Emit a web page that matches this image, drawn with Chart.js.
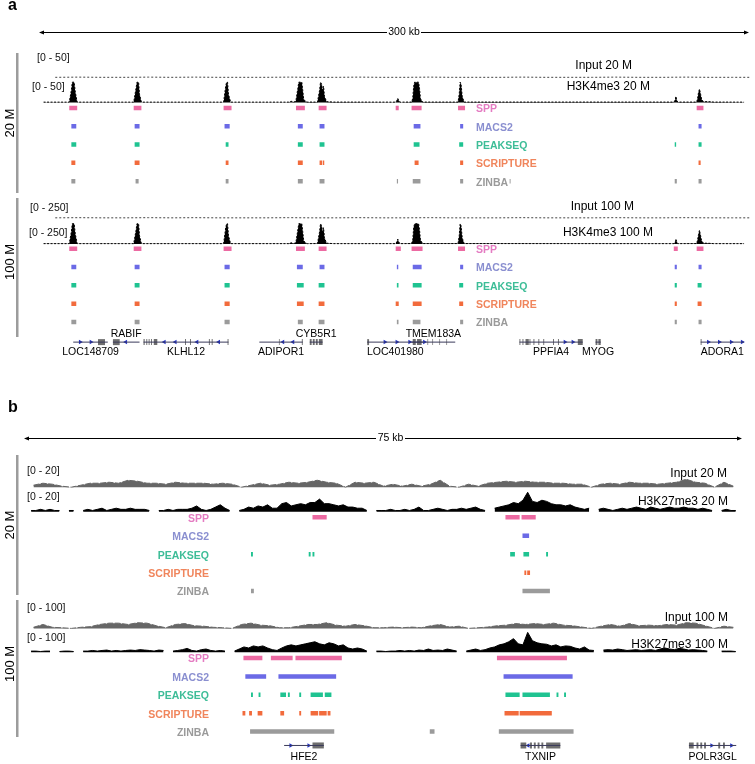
<!DOCTYPE html>
<html><head><meta charset="utf-8">
<script src="https://cdn.jsdelivr.net/npm/chart.js@4.4.1/dist/chart.umd.min.js"></script>
<style>html,body{margin:0;padding:0;background:#fff}canvas{display:block}</style>
</head><body>
<canvas id="c" width="755" height="764"></canvas>
<script>
// ---------------- DATA ----------------
const callers = ['SPP','MACS2','PEAKSEQ','SCRIPTURE','ZINBA'];

// Panel a (x in kb, 0-300)
const a20_spp = [[11.0,14.4],[38.6,41.9],[77.1,80.5],[108.1,111.9],[117.8,121.2],[150.8,152.1],[157.6,161.9],[177.5,180.5],[279.7,282.6]];
const a20_macs2 = [[11.9,14.0],[39.0,41.1],[77.5,79.7],[108.9,111.0],[118.2,120.3],[158.5,161.4],[178.4,179.7],[280.5,281.8]];
const a20_peakseq = [[11.9,14.0],[39.0,41.1],[78.0,79.2],[108.9,111.0],[118.2,120.3],[158.5,161.0],[178.0,179.7],[270.3,270.9],[280.5,281.8]];
const a20_scripture = [[11.9,13.6],[39.0,41.1],[78.0,79.2],[108.9,111.0],[118.2,119.3],[119.6,120.2],[158.9,160.6],[178.4,179.7],[280.5,281.4]];
const a20_zinba = [[11.9,13.6],[39.4,40.7],[78.0,79.2],[108.9,111.0],[118.2,120.3],[151.3,151.8],[158.1,161.4],[178.4,179.7],[199.6,200.0],[270.3,271.2],[280.5,281.8]];

const a100_spp = [[11.0,14.4],[38.6,41.9],[77.1,80.5],[108.1,111.9],[117.8,121.2],[150.8,153.0],[157.6,162.3],[177.5,180.5],[269.9,271.6],[279.7,282.6]];
const a100_macs2 = [[11.9,14.0],[39.0,41.1],[77.5,79.7],[108.5,111.0],[118.2,120.3],[151.3,151.9],[158.1,161.9],[178.4,179.7],[270.3,271.2],[280.5,281.8]];
const a100_peakseq = [[11.9,14.0],[39.0,41.1],[77.5,79.7],[108.5,111.4],[117.8,120.3],[151.3,152.0],[158.1,161.9],[178.0,179.7],[270.3,271.2],[280.1,281.8]];
const a100_scripture = [[11.9,14.0],[39.0,41.1],[77.5,79.7],[108.5,111.4],[117.8,120.3],[150.8,152.1],[158.1,161.9],[178.0,179.7],[270.3,271.2],[280.1,281.8]];
const a100_zinba = [[11.9,14.0],[39.0,41.1],[77.5,79.7],[108.9,111.0],[117.8,120.3],[151.3,152.0],[158.1,161.4],[178.4,179.7],[270.3,271.2],[280.5,281.8]];

// signal tracks panel a: [kb, value]
const a20_h3k4 = [[0,0.8],[11.0,0.8],[11.9,30],[12.3,50],[13.1,50],[13.6,25],[14.4,0.8],
 [38.6,0.8],[39.6,35],[40.0,50],[40.7,50],[41.1,20],[41.9,0.8],
 [77.1,0.8],[78.0,40],[78.4,50],[78.8,50],[79.2,20],[80.1,0.8],
 [105.0,0.8],[106.0,3],[107.0,1],[107.6,2],[108.1,5],[108.9,35],[109.3,50],[110.6,50],[111.0,30],[111.4,8],[112.3,2],[113.0,1],
 [117.3,1],[118.2,30],[118.6,50],[119.1,45],[119.5,30],[119.9,40],[120.3,15],[121.2,2],[124.0,1],
 [150.8,0.8],[151.3,5],[151.7,10],[152.1,5],[152.6,0.8],
 [157.6,1],[158.1,10],[158.5,40],[158.9,50],[160.6,50],[161.0,35],[161.4,10],[162.3,1],
 [177.5,1],[178.0,20],[178.4,50],[178.8,45],[179.3,15],[180.1,1],
 [270.0,1],[270.6,8],[270.8,15],[271.2,5],[271.6,1],
 [279.7,1],[280.1,10],[280.5,25],[280.9,33],[281.4,20],[281.8,8],[282.6,2],[285.0,2],[287.0,1],[300,0.8]];
const a100_h3k4 = [[0,4],[11.0,4],[11.9,150],[12.3,250],[13.1,250],[13.6,120],[14.4,4],
 [38.6,4],[39.6,170],[40.0,250],[40.7,250],[41.1,100],[41.9,4],
 [77.1,4],[78.0,200],[78.4,250],[78.8,250],[79.2,100],[80.1,4],
 [105.0,4],[106.0,15],[107.0,5],[107.6,10],[108.1,25],[108.9,175],[109.3,250],[110.6,250],[111.0,150],[111.4,40],[112.3,10],[113.0,4],
 [117.3,5],[118.2,150],[118.6,250],[119.1,220],[119.5,150],[119.9,200],[120.3,75],[121.2,10],[124.0,4],
 [150.8,4],[151.3,25],[151.7,60],[152.1,25],[152.6,4],
 [157.6,5],[158.1,50],[158.5,200],[158.9,250],[160.6,250],[161.0,175],[161.4,50],[162.3,5],
 [177.5,5],[178.0,100],[178.4,250],[178.8,225],[179.3,75],[180.1,5],
 [270.0,4],[270.6,30],[270.8,60],[271.2,25],[271.6,4],
 [279.7,5],[280.1,50],[280.5,120],[280.9,170],[281.4,100],[281.8,40],[282.6,10],[285.0,8],[287.0,4],[300,4]];
// input panel a, 10 kb bins
const a20_input = [1,1.5,1,1,1.5,1,1.5,1,1,1,1.5,1,1,1.5,1,1,1.5,1,1,1,1.5,1,1,1,1.5,1,1,1.5,1,1,1];
const a100_input = [5,7,5,5,7,5,7,5,5,5,7,5,5,7,5,5,7,5,5,5,7,5,5,5,7,5,5,7,5,5,5];

// Panel b (x in kb, 0-75)
const b20_spp = [[30.0,31.5],[50.4,51.9],[52.1,53.6]];
const b20_macs2 = [[52.2,52.9]];
const b20_peakseq = [[23.5,23.7],[29.6,29.8],[30.0,30.2],[50.9,51.4],[52.3,52.9],[54.7,54.9]];
const b20_scripture = [[52.4,52.6],[52.7,53.0]];
const b20_zinba = [[23.5,23.8],[52.2,55.1]];

const b100_spp = [[22.7,24.7],[25.6,27.9],[28.2,33.1],[49.5,56.9]];
const b100_macs2 = [[22.9,25.1],[26.4,32.5],[50.2,57.5]];
const b100_peakseq = [[23.5,23.7],[24.3,24.5],[26.6,27.2],[27.4,27.6],[28.6,28.8],[29.8,31.1],[31.3,32.0],[50.4,51.9],[52.2,55.1],[55.8,56.0],[56.6,56.8]];
const b100_scripture = [[22.6,22.9],[23.3,23.6],[24.2,24.7],[26.6,27.0],[28.6,28.8],[29.8,30.6],[30.7,31.5],[31.6,31.9],[50.3,51.8],[51.9,55.3]];
const b100_zinba = [[23.4,32.3],[42.4,42.9],[49.7,57.6]];

// signal panel b: Input in 1 kb bins, H3K27me3 in 0.5 kb bins
const b20_input = [2,4,3,1,0,2,4,4,5,4, 7,6,4,4,3,5,4,4,4,3, 4,3,0,2,4,2,3,5,4,5, 7,5,4,0,5,4,5,1,3,1,
 3,1,3,7,1,0,3,1,4,5, 6,5,6,5,5,4,4,3,3,0, 3,4,3,5,4,4,3,4,5,8, 5,4,0,5,1];
const b100_input = [5,18,5,3,0,5,8,18,24,24, 18,26,24,12,3,18,22,12,10,5, 3,0,18,24,15,12,3,3,10,18,
 18,26,15,10,18,12,3,3,6,3, 6,3,12,18,6,10,0,3,6,12, 15,22,18,22,18,24,15,12,6,0, 10,18,10,22,12,15,12,18,15,26, 24,12,0,10,5];
const b20_h3k27 = [1,1,2,1,2,1,1,null,1,1, null,1,2,1,2,3,1,2,3,2, 2,3,2,2,2,1,null,1,1,2, 1,2,2,2,3,5,2,1,2,4,
 6,3,1,null,1,2,4,3,5,4, 6,3,3,7,8,5,6,7,6,8, 8,11,7,7,6,5,6,4,4,3, 3,1,null,1,1,1,2,1,1,2,
 1,2,4,1,1,2,3,2,1,2, 2,3,2,3,4,2,1,null,3,4, 5,6,8,7,10,17,9,8,10,9, 7,6,6,5,6,4,3,2,3,null,
 2,3,2,1,2,3,2,3,4,3, 2,4,3,2,3,4,3,3,4,3, 3,2,3,2,1,null,1,2,1,1];
const b100_h3k27 = [5,5,3,5,5,null,3,5,5,3, null,5,5,8,5,8,10,5,8,5, 8,10,8,12,10,8,5,10,8,null, 5,8,12,18,8,5,12,15,8,5,
 8,5,null,5,15,25,20,30,25,30, 20,12,8,20,30,35,30,35,40,45, 50,40,35,45,40,30,35,20,15,20, 15,5,null,5,5,3,5,5,8,5,
 8,5,10,8,15,8,10,8,15,10, 5,null,5,10,15,8,12,20,25,35, 40,50,65,40,35,95,55,45,40,38, 30,35,25,30,28,20,15,25,10,8,
 null,10,12,10,15,12,8,10,12,8, 10,12,8,15,20,15,12,18,15,10, 12,10,8,5,null,null,5,5,5,3];

// genes
const genesA = ['LOC148709','RABIF','KLHL12','ADIPOR1','CYB5R1','LOC401980','TMEM183A','PPFIA4','MYOG','ADORA1'];
const genesAStart = [12.7,29.7,42.8,92.4,114.0,138.6,157.6,203.8,236.4,281.4];
const genesAEnd = [27.5,41.1,79.2,111.0,119.5,162.7,176.3,230.9,238.6,300.0];
const genesAStrand = [1,-1,-1,-1,1,1,1,1,1,1];
const genesAExons = [[[23.3,26.3]],[[29.7,32.6]],
 [[42.8,43.3],[44.0,44.4],[45.0,45.4],[46.0,46.4],[47.2,48.7],[60.6,61.0],[62.7,63.1],[70.8,71.2],[72.0,72.4],[78.8,79.2]],
 [[94.5,94.8],[96.6,96.9],[98.7,99.0],[100.8,101.1],[110.6,111.0]],
 [[114.0,114.8],[115.3,116.1],[116.6,117.4],[117.9,119.5]],
 [[138.6,139.4]],
 [[158.1,159.4],[159.9,161.9],[164.4,164.7],[166.5,166.8],[169.5,169.8],[172.5,172.8],[175.0,175.3]],
 [[203.8,204.2],[205.1,205.5],[206.4,207.8],[208.1,208.5],[209.8,210.2],[211.9,212.3],[214.0,214.4],[218.2,218.6],[220.3,220.7],[228.8,230.9]],
 [[236.4,237.2],[237.6,238.6]],
 [[281.4,281.8]]];
const genesAArrows = [[15.7,20.3],[35.2],[51.7,56.4,65.7,75.0],[102.5,106.8],[],[146.2,151.3,156.8],[163.1],[223.3,226.7],[],[284.7,289.4,294.5,299.2]];
const genesALabelSide = [1,-1,1,1,-1,1,-1,1,1,1];

const genesB = ['HFE2','TXNIP','POLR3GL'];
const genesBStart = [27.0,52.0,69.8];
const genesBEnd = [31.2,56.2,74.8];
const genesBStrand = [1,-1,1];
const genesBExons = [[[30.0,31.2]],[[52.0,52.6],[53.0,53.2],[53.4,53.6],[53.8,54.0],[54.2,54.4],[54.7,56.2]],[[69.8,70.3],[70.6,70.8],[71.0,71.2],[71.4,71.6],[72.9,73.1],[73.4,73.6]]];
const genesBArrows = [[27.7,29.6],[52.8],[72.2,74.3]];

// ---------------- LAYOUT HELPERS ----------------
const W = 755, H = 764;
function xScale(v1,p1,v2,p2){const R=W*(v2-v1)/(p2-p1);const min=v1-p1*R/W;return {type:'linear',axis:'x',display:false,min:min,max:min+R};}
function yScale(v1,p1,v2,p2){const k=(p2-p1)/(v2-v1);
  if(k<0){const R=-H/k;const max=v1+p1*R/H;return {type:'linear',axis:'y',display:false,min:max-R,max:max};}
  const R=H/k;const min=v1-p1*R/H;return {type:'linear',axis:'y',display:false,reverse:true,min:min,max:min+R};}

const scales = {
  xA: xScale(0,40,300,748),
  xB: xScale(0,25,75,742),
  yA20i: yScale(0,74.5,50,54.5),
  yA20h: yScale(0,99.5,50,79),
  yA100i: yScale(0,216.5,250,196.5),
  yA100h: yScale(0,242.5,250,222),
  yA20r: yScale(0,105,4,179),
  yA100r: yScale(0,247.3,4,321.3),
  yAg: yScale(0,341.7,1,331.7),
  yB20i: yScale(0,488.3,20,468.3),
  yB20h: yScale(0,513,20,490),
  yB100i: yScale(0,631,100,609),
  yB100h: yScale(0,655,100,634),
  yB20r: yScale(0,518.7,4,593.3),
  yB100r: yScale(0,661,4,735.3),
  yBg: yScale(0,749.3,1,739.3)
};

const barColors = ['#ec6aa2','#6b6ae6','#1fc391','#f26b3c','#9b9b9b'];
const textColors = ['#e47cc2','#8a8fd0','#3dbd97','#f0855c','#9a9a9a'];

const datasets = [];
function segs(list,row){const d=[];for(const [s,e] of list){d.push({x:s,y:row},{x:e,y:row},{x:e,y:null});}return d;}
function addCalls(lists,xid,yid){lists.forEach((l,i)=>datasets.push({data:segs(l,i),xAxisID:xid,yAxisID:yid,borderColor:barColors[i],borderWidth:4.5,borderCapStyle:'butt',pointRadius:0,fill:false,spanGaps:false}));}
function addPairs(arr,xid,yid,col,dash){datasets.push({data:arr.map(p=>({x:p[0],y:p[1]})),xAxisID:xid,yAxisID:yid,borderColor:col,backgroundColor:col,borderWidth:1,borderDash:dash||[],pointRadius:0,fill:'origin',tension:0});}
function addBins(arr,size,xid,yid,col,fill,dash){datasets.push({data:arr.map((v,i)=>({x:(i+0.5)*size,y:v})),xAxisID:xid,yAxisID:yid,borderColor:col,backgroundColor:col,borderWidth:1,borderDash:dash||[],pointRadius:0,fill:fill?'origin':false,tension:0,spanGaps:false});}
function addGenes(starts,ends,strands,exons,arrows,xid,yid){
  starts.forEach((s,i)=>{
    datasets.push({data:[{x:s,y:0},{x:ends[i],y:0}],xAxisID:xid,yAxisID:yid,borderColor:'#3a3a5a',borderWidth:1,pointRadius:0,fill:false});
    datasets.push({data:segs(exons[i],0),xAxisID:xid,yAxisID:yid,borderColor:'#6e6e6e',borderWidth:6,borderCapStyle:'butt',pointRadius:0,fill:false,spanGaps:false});
    if(arrows[i].length) datasets.push({data:arrows[i].map(x=>({x:x,y:0})),xAxisID:xid,yAxisID:yid,showLine:false,pointStyle:'triangle',pointRadius:2.6,pointRotation:strands[i]>0?90:-90,pointBackgroundColor:'#1f2fc8',pointBorderColor:'#1f2fc8',pointBorderWidth:0});
  });
}

// panel a
addBins(a20_input,10,'xA','yA20i','#444',false,[2,2]);
addPairs(a20_h3k4,'xA','yA20h','#000',[2,1.5]);
addCalls([a20_spp,a20_macs2,a20_peakseq,a20_scripture,a20_zinba],'xA','yA20r');
addBins(a100_input,10,'xA','yA100i','#444',false,[2,2]);
addPairs(a100_h3k4,'xA','yA100h','#000',[2,1.5]);
addCalls([a100_spp,a100_macs2,a100_peakseq,a100_scripture,a100_zinba],'xA','yA100r');
addGenes(genesAStart,genesAEnd,genesAStrand,genesAExons,genesAArrows,'xA','yAg');
// panel b
addBins(b20_input,1,'xB','yB20i','#666',true,[6,1.5]);
addBins(b20_h3k27,0.5,'xB','yB20h','#000',true);
addCalls([b20_spp,b20_macs2,b20_peakseq,b20_scripture,b20_zinba],'xB','yB20r');
addBins(b100_input,1,'xB','yB100i','#666',true,[6,1.5]);
addBins(b100_h3k27,0.5,'xB','yB100h','#000',true);
addCalls([b100_spp,b100_macs2,b100_peakseq,b100_scripture,b100_zinba],'xB','yB100r');
addGenes(genesBStart,genesBEnd,genesBStrand,genesBExons,genesBArrows,'xB','yBg');

// ---------------- ANNOTATION PLUGIN ----------------
const FONT = '"Liberation Sans", Arial, Helvetica, sans-serif';
function arrowLine(ctx,x1,x2,y,g1,g2){
  ctx.strokeStyle='#000';ctx.fillStyle='#000';ctx.lineWidth=1;
  ctx.beginPath();ctx.moveTo(x1,y);ctx.lineTo(g1,y);ctx.moveTo(g2,y);ctx.lineTo(x2,y);ctx.stroke();
  ctx.beginPath();ctx.moveTo(x1-1,y);ctx.lineTo(x1+4,y-2);ctx.lineTo(x1+4,y+2);ctx.closePath();ctx.fill();
  ctx.beginPath();ctx.moveTo(x2+1,y);ctx.lineTo(x2-4,y-2);ctx.lineTo(x2-4,y+2);ctx.closePath();ctx.fill();
}
const annot = {
  id:'annot',
  beforeDatasetsDraw(chart){
    const ctx=chart.ctx;ctx.save();
    ctx.fillStyle='#9c9c9c';
    [[53,193],[198,337],[455,595],[600,737]].forEach(([a,b])=>ctx.fillRect(16,a,2.5,b-a));
    arrowLine(ctx,40,748,32.5,387,421);
    arrowLine(ctx,25,741,438.5,376,405);
    ctx.restore();
  },
  afterDatasetsDraw(chart){
    const ctx=chart.ctx;ctx.save();
    ctx.fillStyle='#000';
    ctx.font='bold 16px '+FONT;ctx.textBaseline='alphabetic';ctx.textAlign='left';
    ctx.fillText('a',8,10);ctx.fillText('b',8,412);
    ctx.font='10.5px '+FONT;ctx.textBaseline='middle';ctx.textAlign='center';
    ctx.fillText('300 kb',404,32.5);ctx.fillText('75 kb',390.5,438.5);
    // depth labels
    ctx.font='13px '+FONT;
    [['20 M',123],['100 M',262],['20 M',525],['100 M',664]].forEach(([t,y])=>{ctx.save();ctx.translate(10,y);ctx.rotate(-Math.PI/2);ctx.fillText(t,0,0);ctx.restore();});
    // range labels
    ctx.font='10.5px '+FONT;ctx.textAlign='left';ctx.fillStyle='#111';
    [['[0 - 50]',37,58.5],['[0 - 50]',32,87],['[0 - 250]',30,208],['[0 - 250]',29,233],
     ['[0 - 20]',27,471.5],['[0 - 20]',27,497.5],['[0 - 100]',27,608],['[0 - 100]',27,638]].forEach(([t,x,y])=>ctx.fillText(t,x,y));
    // track titles
    ctx.font='12px '+FONT;ctx.textAlign='right';ctx.fillStyle='#000';
    [['Input 20 M',632,66],['H3K4me3 20 M',650,86.5],['Input 100 M',634,207],['H3K4me3 100 M',653,233],
     ['Input 20 M',727,473.5],['H3K27me3 20 M',728,502],['Input 100 M',728,618],['H3K27me3 100 M',728,645]].forEach(([t,x,y])=>ctx.fillText(t,x,y));
    // caller labels
    ctx.font='bold 10.5px '+FONT;
    const rowLabel=(sid,x,align)=>{const s=chart.scales[sid];ctx.textAlign=align;callers.forEach((c,i)=>{ctx.fillStyle=textColors[i];ctx.fillText(c,x,s.getPixelForValue(i)+1.5);});};
    rowLabel('yA20r',476,'left');rowLabel('yA100r',476,'left');
    rowLabel('yB20r',209,'right');rowLabel('yB100r',209,'right');
    // gene labels
    ctx.font='10.5px '+FONT;ctx.fillStyle='#000';ctx.textAlign='center';
    const xa=chart.scales.xA, ya=chart.scales.yAg;
    genesA.forEach((g,i)=>{const x=xa.getPixelForValue((genesAStart[i]+genesAEnd[i])/2);const y=ya.getPixelForValue(0)+(genesALabelSide[i]>0?9.8:-8.5);ctx.fillText(g,x,y);});
    const xb=chart.scales.xB, yb=chart.scales.yBg;
    genesB.forEach((g,i)=>{const x=xb.getPixelForValue((genesBStart[i]+genesBEnd[i])/2);ctx.fillText(g,x,yb.getPixelForValue(0)+12);});
    ctx.restore();
  }
};

new Chart(document.getElementById('c'),{
  type:'line',
  data:{datasets:datasets},
  options:{responsive:false,animation:false,devicePixelRatio:1,events:[],
    layout:{padding:0},
    plugins:{legend:{display:false},tooltip:{enabled:false},title:{display:false}},
    scales:scales},
  plugins:[annot]
});
</script>
</body></html>
